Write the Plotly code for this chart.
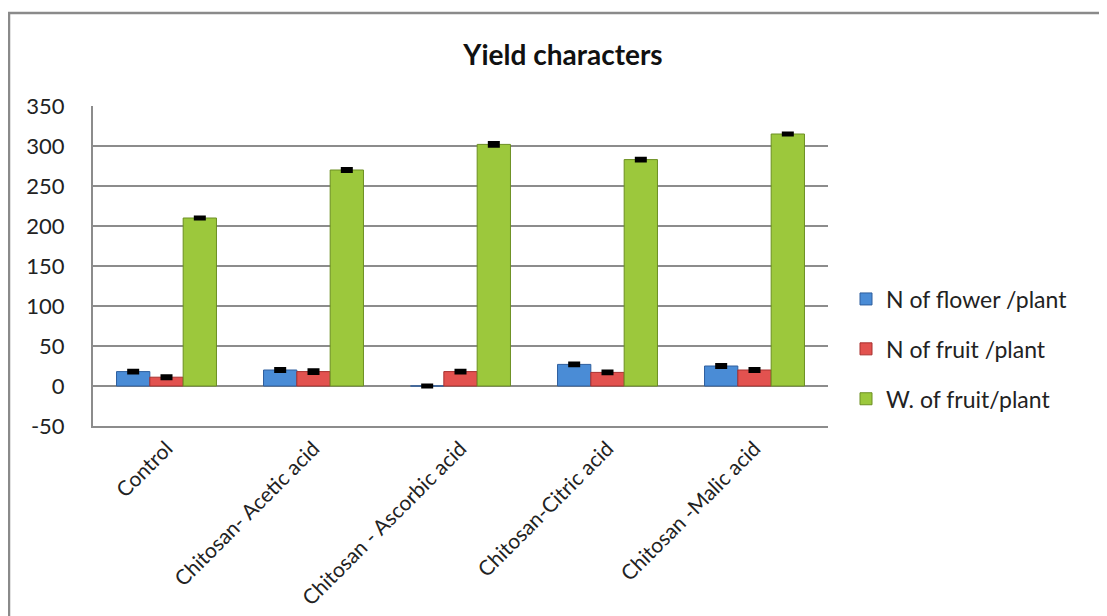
import plotly.graph_objects as go

categories = ["Control", "Chitosan- Acetic acid", "Chitosan - Ascorbic acid",
              "Chitosan-Citric acid", "Chitosan -Malic acid"]
flower = [18, 20, 0, 27, 25]
flower_err = [1.5, 1.5, 1.0, 1.5, 1.5]
fruit = [11, 18, 18, 17, 20]
fruit_err = [1.5, 2.0, 1.5, 1.5, 1.5]
weight = [210, 270, 302, 283, 315]
weight_err = [1.0, 1.5, 2.0, 1.5, 1.0]
y_ticks = [-50, 0, 50, 100, 150, 200, 250, 300, 350]
y_labels = ["-50", "0", "50", "100", "150", "200", "250", "300", "350"]

series = [
    ("N of flower /plant", flower, flower_err, "#4A8CD6", "#2E5F9E"),
    ("N of fruit /plant", fruit, fruit_err, "#E2524F", "#A8302E"),
    ("W. of fruit/plant", weight, weight_err, "#9CC83C", "#6C8F22"),
]

FONT = "Lato"
fig = go.Figure()
for i, (name, vals, err, col, line) in enumerate(series):
    fig.add_trace(go.Bar(
        name=name, x=categories, y=vals,
        marker=dict(color=col, line=dict(color=line, width=1)),
        error_y=dict(type="data", array=err, visible=True, color="black",
                     thickness=3.5, width=6),
        legendgroup=str(i),
    ))

# page offset of the body margin
OFF = 8
W, H = 1107 - OFF, 616 - OFF
L, R, T, B = 93 - OFF, 828 - OFF, 106 - OFF, 426 - OFF
pw, ph = R - L, B - T

def px(x):
    return (x - OFF - L) / pw

def py(y):
    return (B - (y - OFF)) / ph

fig.update_layout(
    width=W, height=H,
    margin=dict(l=L, r=W - R, t=T, b=H - B, autoexpand=False),
    paper_bgcolor="white", plot_bgcolor="white",
    barmode="group", bargap=0.32, bargroupgap=0,
    font=dict(family=FONT, size=20, color="#222222"),
    title=dict(text="<b>Yield characters</b>", xref="container",
               x=(563 - OFF) / W, xanchor="center",
               yref="container", y=1 - (55 - OFF) / H, yanchor="middle",
               font=dict(family=FONT, size=28, color="#111111")),
    legend=dict(x=px(846), xanchor="left", y=py(349), yanchor="middle",
                font=dict(family=FONT, size=23, color="#222222"),
                tracegroupgap=17, itemwidth=30, traceorder="grouped",
                bgcolor="rgba(0,0,0,0)"),
    showlegend=True,
    shapes=[dict(type="rect", xref="paper", yref="paper",
                 x0=px(9), x1=px(1125), y0=py(640), y1=py(13),
                 line=dict(color="#8A8A8A", width=2.5), layer="below")],
)
fig.update_yaxes(range=[-50, 350], tickvals=y_ticks, ticktext=y_labels,
                 showgrid=True,
                 gridcolor="#8C8C8C", gridwidth=2, zeroline=True,
                 zerolinecolor="#8C8C8C", zerolinewidth=2,
                 showline=True, linecolor="#8C8C8C", linewidth=2,
                 ticks="", ticklabelstandoff=22,
                 tickfont=dict(family=FONT, size=22, color="#222222"))
fig.update_xaxes(showgrid=False, showline=True, linecolor="#8C8C8C",
                 linewidth=2, ticks="", tickangle=-45,
                 tickfont=dict(family=FONT, size=21, color="#222222"))

fig.write_html("out.html")
